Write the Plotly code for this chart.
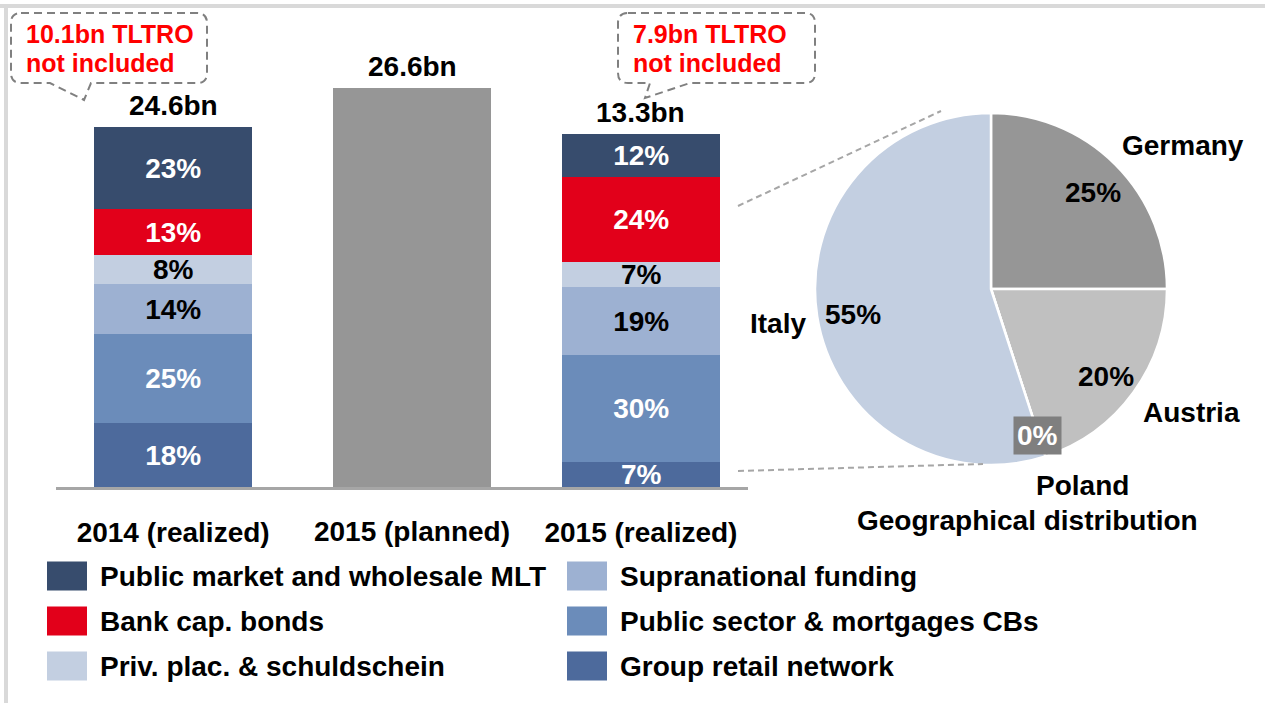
import plotly.graph_objects as go

# ---------------------------------------------------------------- data
categories = ["2014 (realized)", "2015 (planned)", "2015 (realized)"]
totals_bn = [24.6, 26.6, 13.3]
tltro_not_included_bn = [10.1, None, 7.9]

series_names = [
    "Group retail network",
    "Public sector & mortgages CBs",
    "Supranational funding",
    "Priv. plac. & schuldschein",
    "Bank cap. bonds",
    "Public market and wholesale MLT",
]
share_2014 = [18, 25, 14, 8, 13, 23]
share_2015 = [7, 30, 19, 7, 24, 12]

countries = ["Germany", "Austria", "Poland", "Italy"]
country_share = [25, 20, 0, 55]

# ---------------------------------------------------------------- styles
W, H = 1265, 703
FONT = "Liberation Sans, Arial, sans-serif"
FS = 28

series_colors = {
    "Group retail network": "#4d6a9c",
    "Public sector & mortgages CBs": "#6b8cba",
    "Supranational funding": "#9db1d2",
    "Priv. plac. & schuldschein": "#c3cfe1",
    "Bank cap. bonds": "#e2001a",
    "Public market and wholesale MLT": "#374c6d",
}
series_text_colors = {
    "Group retail network": "white",
    "Public sector & mortgages CBs": "white",
    "Supranational funding": "black",
    "Priv. plac. & schuldschein": "black",
    "Bank cap. bonds": "white",
    "Public market and wholesale MLT": "white",
}
planned_color = "#969696"
country_colors = ["#969696", "#c0c0c0", "#7f7f7f", "#c3cfe1"]

legend_columns = [
    ["Public market and wholesale MLT", "Bank cap. bonds", "Priv. plac. & schuldschein"],
    ["Supranational funding", "Public sector & mortgages CBs", "Group retail network"],
]


def px(x):
    return x / W


def py(y):
    return 1 - y / H


def bold(size=FS, color="black"):
    return dict(family=FONT, size=size, color=color, weight="bold")


def label(x, y, text, font, xanchor="center", **kw):
    """Text placed in pixel coordinates measured from the top-left corner."""
    return dict(x=px(x), y=py(y), xref="paper", yref="paper", text=text,
                showarrow=False, xanchor=xanchor, yanchor="middle", font=font, **kw)


fig = go.Figure()

# stacked composition of the realized years (share of the year's total)
realized = [categories[0], categories[2]]
for i, name in enumerate(series_names):
    vals = [share_2014[i], share_2015[i]]
    fig.add_trace(go.Bar(
        x=realized, y=vals, name=name, xaxis="x", yaxis="y",
        width=0.675,
        marker=dict(color=series_colors[name], line=dict(width=0)),
        text=[f"{v}%" for v in vals],
        textposition="inside", insidetextanchor="middle",
        textangle=0, constraintext="none",
        insidetextfont=bold(color=series_text_colors[name]),
        showlegend=False, hoverinfo="skip",
    ))

# planned volume (bn)
fig.add_trace(go.Bar(
    x=[categories[1]], y=[totals_bn[1]], xaxis="x2", yaxis="y2",
    width=0.675, marker=dict(color=planned_color, line=dict(width=0)),
    showlegend=False, hoverinfo="skip",
))

# geographical split of the 2015 issuance
pie_cx, pie_cy, pie_r = 991, 289, 176
fig.add_trace(go.Pie(
    labels=countries, values=country_share, sort=False,
    direction="clockwise", rotation=0,
    marker=dict(colors=country_colors, line=dict(color="white", width=2.5)),
    textinfo="none", hoverinfo="skip", showlegend=False,
    domain=dict(x=[px(pie_cx - pie_r), px(pie_cx + pie_r)],
                y=[py(pie_cy + pie_r), py(pie_cy - pie_r)]),
))

annotations = []
shapes = []

# totals above the bars
realized_sums = [sum(share_2014), sum(share_2015)]
for cat, top, total, xr, yr in [
    (categories[0], realized_sums[0], totals_bn[0], "x", "y"),
    (categories[1], totals_bn[1], totals_bn[1], "x2", "y2"),
    (categories[2], realized_sums[1], totals_bn[2], "x", "y"),
]:
    annotations.append(dict(x=cat, y=top, xref=xr, yref=yr, text=f"{total}bn",
                            showarrow=False, xanchor="center", yanchor="bottom",
                            yshift=4, font=bold()))


# dashed speech-bubble callouts
def callout_path(x0, y0, x1, y1, r, tail_l, tail_r, apex):
    pts = [
        ("M", [(x0 + r, y0)]), ("L", [(x1 - r, y0)]),
        ("Q", [(x1, y0), (x1, y0 + r)]), ("L", [(x1, y1 - r)]),
        ("Q", [(x1, y1), (x1 - r, y1)]), ("L", [(tail_r, y1)]),
        ("L", [apex]), ("L", [(tail_l, y1)]), ("L", [(x0 + r, y1)]),
        ("Q", [(x0, y1), (x0, y1 - r)]), ("L", [(x0, y0 + r)]),
        ("Q", [(x0, y0), (x0 + r, y0)]),
    ]
    out = []
    for cmd, ps in pts:
        out.append(cmd + " ".join(f"{px(a):.5f},{py(b):.5f}" for a, b in ps))
    return " ".join(out) + " Z"


callouts = [
    dict(box=(11, 13, 207, 83), tail=(50, 91, (84, 100))),
    dict(box=(618, 13, 815, 83), tail=(650, 690, (645, 98))),
]
tltro_values = [v for v in tltro_not_included_bn if v is not None]
for c, v in zip(callouts, tltro_values):
    x0, y0, x1, y1 = c["box"]
    tl, tr, ap = c["tail"]
    shapes.append(dict(type="path", xref="paper", yref="paper",
                       path=callout_path(x0, y0, x1, y1, 10, tl, tr, ap),
                       line=dict(color="#808080", width=2, dash="8px,5px")))
    annotations.append(label(x0 + 13, 33.5, f"{v}bn TLTRO", bold(25, "#ff0000"), xanchor="left"))
    annotations.append(label(x0 + 13, 63, "not included", bold(25, "#ff0000"), xanchor="left"))

# zoom lines from the 2015 bar to the pie
for (a, b), (c, d) in [((738, 206), (941, 111)), ((738, 471), (983, 464))]:
    shapes.append(dict(type="line", xref="paper", yref="paper",
                       x0=px(a), y0=py(b), x1=px(c), y1=py(d),
                       line=dict(color="#a6a6a6", width=2, dash="6px,4px")))

# pie labels
pct_pos = {"Germany": (1093, 192), "Austria": (1106, 377), "Poland": (1037, 435), "Italy": (853, 315)}
name_pos = {"Germany": (1183, 145), "Austria": (1191, 413), "Poland": (1082, 485), "Italy": (778, 323)}
for name, share in zip(countries, country_share):
    xp, yp = pct_pos[name]
    if share == 0:
        annotations.append(label(xp, yp, f"{share}%", bold(color="white"),
                                 bgcolor="#7f7f7f", borderpad=3))
    else:
        annotations.append(label(xp, yp, f"{share}%", bold()))
    xn, yn = name_pos[name]
    annotations.append(label(xn, yn, name, bold()))
annotations.append(label(1027, 520, "Geographical distribution", bold()))

# legend (two columns, large swatches)
col_x = [47, 567]
row_y = [576, 621, 666]
for ci, col in enumerate(legend_columns):
    for ri, name in enumerate(col):
        sx, sy = col_x[ci], row_y[ri]
        shapes.append(dict(type="rect", xref="paper", yref="paper",
                           x0=px(sx), x1=px(sx + 40), y0=py(sy + 14.5), y1=py(sy - 14.5),
                           fillcolor=series_colors[name], line=dict(width=0)))
        annotations.append(label(sx + 51, sy + 0.5, name, bold(), xanchor="left"))

# light frame at top and left
shapes.append(dict(type="rect", xref="paper", yref="paper", x0=0, x1=1,
                   y0=py(8), y1=py(4), fillcolor="#d9d9d9", line=dict(width=0), layer="below"))
shapes.append(dict(type="rect", xref="paper", yref="paper", x0=px(4), x1=px(8),
                   y0=0, y1=py(4), fillcolor="#d9d9d9", line=dict(width=0), layer="below"))

bar_dom_x = [px(56.2), px(748)]
bar_dom_y = [py(487), 1.0]
x_unit = 233.9
x2_start = 1 - (412 - 56.2) / x_unit
fig.update_layout(
    width=W, height=H,
    margin=dict(l=0, r=0, t=0, b=0),
    paper_bgcolor="white", plot_bgcolor="rgba(0,0,0,0)",
    barmode="stack", bargap=0,
    font=dict(family=FONT, size=FS, color="black"),
    xaxis=dict(domain=bar_dom_x, anchor="y", type="category",
               categoryorder="array", categoryarray=categories,
               range=[-0.5, -0.5 + (748 - 56.2) / x_unit],
               tickmode="array", tickvals=[categories[0], categories[2]],
               ticktext=[categories[0], categories[2]],
               ticks="", showgrid=False, zeroline=False,
               showline=True, linecolor="#a6a6a6", linewidth=3,
               tickfont=bold(), ticklabelstandoff=18, fixedrange=True),
    yaxis=dict(domain=bar_dom_y, anchor="x", range=[0, 487 / 3.565],
               visible=False, fixedrange=True),
    xaxis2=dict(domain=bar_dom_x, anchor="y2", type="category",
                categoryorder="array", categoryarray=categories,
                range=[x2_start, x2_start + (748 - 56.2) / x_unit],
                tickmode="array", tickvals=[categories[1]], ticktext=[categories[1]],
                ticks="", showgrid=False, zeroline=False, showline=False,
                tickfont=bold(), ticklabelstandoff=25, fixedrange=True),
    yaxis2=dict(domain=bar_dom_y, anchor="x2", range=[0, 487 / 15.01],
                visible=False, fixedrange=True),
    shapes=shapes,
    annotations=annotations,
)

fig.write_html("out.html")
